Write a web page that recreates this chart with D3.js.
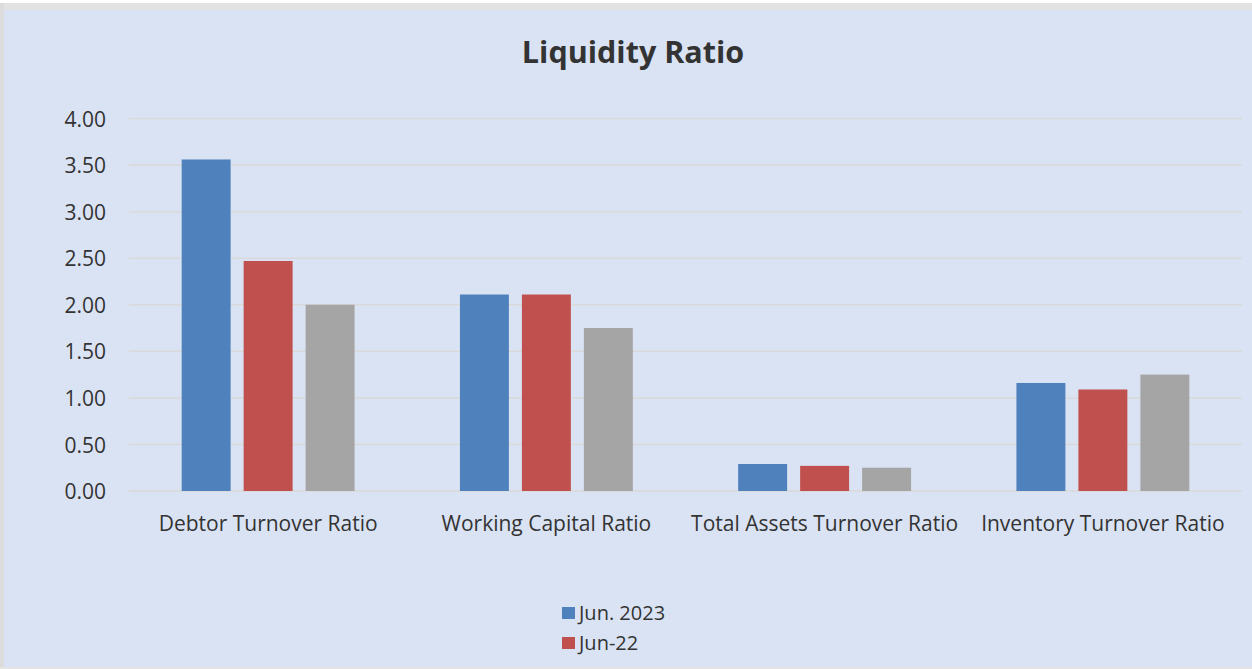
<!DOCTYPE html>
<html><head><meta charset="utf-8">
<script src="https://cdn.jsdelivr.net/npm/d3@7"></script>
<style>
html,body{margin:0;padding:0;background:#fff;}
svg{display:block;}
text{font-family:"Open Sans",sans-serif;fill:#333;}
</style></head>
<body>
<script>
const categories = ["Debtor Turnover Ratio","Working Capital Ratio","Total Assets Turnover Ratio","Inventory Turnover Ratio"];
const seriesNames = ["Jun. 2023","Jun-22","Jun-21"];
const seriesColors = ["#4f81bd","#c0504d","#a5a5a5"];
const valuesJun2023 = [3.56, 2.11, 0.29, 1.16];
const valuesJun22 = [2.47, 2.11, 0.27, 1.09];
const valuesJun21 = [2.00, 1.75, 0.25, 1.25];
const yTicks = [0,0.5,1,1.5,2,2.5,3,3.5,4];
const legendShown = [0,1];

const W=1252,H=669;
const FF="'Open Sans',sans-serif";
const svg=d3.select("body").append("svg").attr("width",W).attr("height",H);
// frame
svg.append("rect").attr("x",0).attr("y",0).attr("width",W).attr("height",H).attr("fill","#ffffff");
svg.append("rect").attr("x",0).attr("y",3).attr("width",W).attr("height",7).attr("fill","#e2e2e2");
svg.append("rect").attr("x",0).attr("y",3).attr("width",4).attr("height",H).attr("fill","#dcdcdc");
svg.append("rect").attr("x",4).attr("y",10).attr("width",W-4).attr("height",H-12).attr("fill","#dae3f3");
svg.append("rect").attr("x",0).attr("y",H-2).attr("width",W).attr("height",2).attr("fill","#e4e4e4");

const x0=d3.scaleBand().domain(categories).range([129,1242]).paddingInner(0).paddingOuter(0);
const x1=d3.scaleBand().domain(seriesNames).range([0,x0.bandwidth()]).paddingInner(0.21).paddingOuter(0.85);
const y=d3.scaleLinear().domain([0,4]).range([491,118.5]);

// grid
svg.append("g").selectAll("line").data(yTicks).join("line")
 .attr("x1",129).attr("x2",1242).attr("y1",d=>y(d)).attr("y2",d=>y(d))
 .attr("stroke","#d9d9d9").attr("stroke-width",1.5);

// y labels
const yAxis=d3.axisLeft(y).tickValues(yTicks).tickFormat(d3.format(".2f")).tickSize(0).tickPadding(0);
const ga=svg.append("g").attr("transform","translate(106,0)").call(yAxis);
ga.select(".domain").remove();
ga.selectAll("text").attr("font-size",21).attr("fill","#333").attr("dy","0.36em").style("font-family",FF);

const allVals=[valuesJun2023,valuesJun22,valuesJun21];
const data=[];
categories.forEach((c,i)=>seriesNames.forEach((s,j)=>data.push({c,s,j,v:allVals[j][i]})));
svg.append("g").selectAll("rect").data(data).join("rect")
 .attr("x",d=>x0(d.c)+x1(d.s)).attr("width",x1.bandwidth())
 .attr("y",d=>y(d.v)).attr("height",d=>y(0)-y(d.v))
 .attr("fill",d=>seriesColors[d.j]);

// x labels
const xAxis=d3.axisBottom(x0).tickSize(0).tickPadding(0);
const gx=svg.append("g").attr("transform","translate(0,523)").call(xAxis);
gx.select(".domain").remove();
gx.selectAll("text").attr("font-size",21).attr("fill","#333").attr("dy","0.36em").style("font-family",FF);

// title
svg.append("text").attr("x",633).attr("y",63).attr("text-anchor","middle")
 .attr("font-size",30.5).attr("font-weight","bold").attr("fill","#333").text("Liquidity Ratio");

// legend
const lg=svg.append("g").selectAll("g").data(legendShown).join("g")
 .attr("transform",(d,i)=>`translate(562,${607+i*30})`);
lg.append("rect").attr("width",13).attr("height",12).attr("fill",d=>seriesColors[d]);
lg.append("text").attr("x",17).attr("y",6).attr("dy","0.36em").attr("font-size",20).text(d=>seriesNames[d]);
</script>
</body></html>
